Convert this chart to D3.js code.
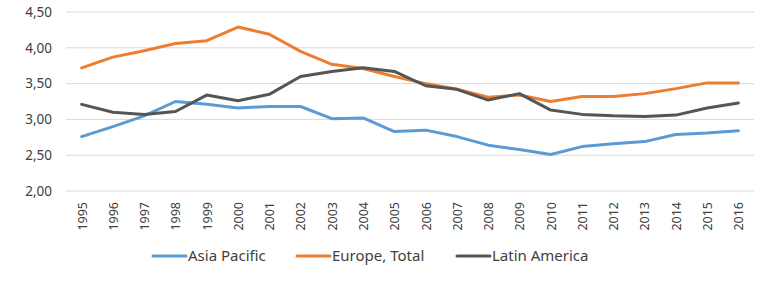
<!DOCTYPE html>
<html>
<head>
<meta charset="utf-8">
<script src="https://cdn.jsdelivr.net/npm/d3@7"></script>
<style>
  body { margin: 0; background: #fff; }
  text { font-family: "Noto Sans", "Open Sans", sans-serif; fill: #404040; }
</style>
</head>
<body>
<div id="chart"></div>
<script>
const years = ["1995","1996","1997","1998","1999","2000","2001","2002","2003","2004","2005",
  "2006","2007","2008","2009","2010","2011","2012","2013","2014","2015","2016"];
const asiaPacific = [2.76,2.90,3.05,3.25,3.21,3.16,3.18,3.18,3.01,3.02,2.83,2.85,2.76,2.64,2.58,2.51,2.62,2.66,2.69,2.79,2.81,2.84];
const europeTotal = [3.72,3.87,3.96,4.06,4.10,4.29,4.19,3.95,3.77,3.71,3.60,3.50,3.42,3.31,3.34,3.25,3.32,3.32,3.36,3.43,3.51,3.51];
const latinAmerica = [3.21,3.10,3.07,3.11,3.34,3.26,3.35,3.60,3.67,3.72,3.67,3.47,3.42,3.27,3.36,3.13,3.07,3.05,3.04,3.06,3.16,3.23];
const yTicks = [2.0, 2.5, 3.0, 3.5, 4.0, 4.5];

const series = [
  { name: "Asia Pacific", values: asiaPacific, color: "#5b9bd5" },
  { name: "Europe, Total", values: europeTotal, color: "#ed7d31" },
  { name: "Latin America", values: latinAmerica, color: "#555555" }
];

const W = 780, H = 282;
const margin = { top: 12, right: 26, bottom: 91, left: 66 };
const width = W - margin.left - margin.right;
const height = H - margin.top - margin.bottom;

const svg = d3.select("#chart").append("svg")
  .attr("width", W).attr("height", H);
const g = svg.append("g")
  .attr("transform", `translate(${margin.left},${margin.top})`);

const x = d3.scalePoint().domain(years).range([0, width]).padding(0.5);
const y = d3.scaleLinear().domain([2, 4.5]).range([height, 0]);
const fmt = v => d3.format(".2f")(v).replace(".", ",");

// gridlines
g.append("g").selectAll("line")
  .data(yTicks).join("line")
  .attr("x1", 0).attr("x2", width)
  .attr("y1", d => y(d)).attr("y2", d => y(d))
  .attr("stroke", "#d9d9d9").attr("stroke-width", 1);

const yAxis = g.append("g").call(d3.axisLeft(y).tickValues(yTicks).tickFormat(fmt).tickSize(0).tickPadding(14));
yAxis.select(".domain").remove();
yAxis.selectAll("text").style("font-size", "13.5px").attr("fill", "#404040");

const xAxis = g.append("g").attr("transform", `translate(0,${height})`)
  .call(d3.axisBottom(x).tickSize(0));
xAxis.select(".domain").remove();
xAxis.selectAll("text")
  .style("font-size", "12.5px")
  .attr("fill", "#404040")
  .attr("text-anchor", "end")
  .attr("transform", "rotate(-90)")
  .attr("x", -11).attr("y", 0).attr("dy", "0.35em");

const line = d3.line().x((d, i) => x(years[i])).y(d => y(d));
g.selectAll(".series").data(series).join("path")
  .attr("class", "series")
  .attr("fill", "none")
  .attr("stroke", d => d.color)
  .attr("stroke-width", 3)
  .attr("stroke-linejoin", "round")
  .attr("stroke-linecap", "round")
  .attr("d", d => line(d.values));

// legend
const legendX = [153, 297, 457];
const legend = svg.append("g").attr("transform", "translate(0,256)");
series.forEach((s, i) => {
  legend.append("line")
    .attr("x1", legendX[i]).attr("x2", legendX[i] + 33)
    .attr("y1", 0).attr("y2", 0)
    .attr("stroke", s.color).attr("stroke-width", 3).attr("stroke-linecap", "round");
  legend.append("text")
    .attr("x", legendX[i] + 35).attr("y", 0).attr("dy", "0.35em")
    .style("font-size", "15px")
    .text(s.name);
});
</script>
</body>
</html>
